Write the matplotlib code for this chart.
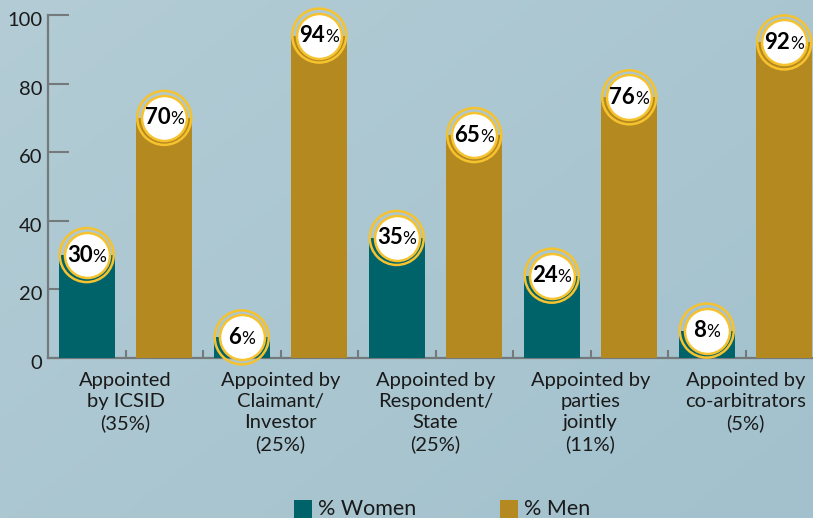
import numpy as np
import matplotlib
matplotlib.use("Agg")
import matplotlib.pyplot as plt
from matplotlib.offsetbox import TextArea, HPacker, AnnotationBbox
from matplotlib.transforms import ScaledTranslation
from matplotlib.patches import Rectangle

categories = ["Appointed\nby ICSID\n(35%)",
              "Appointed by\nClaimant/\nInvestor\n(25%)",
              "Appointed by\nRespondent/\nState\n(25%)",
              "Appointed by\nparties\njointly\n(11%)",
              "Appointed by\nco-arbitrators\n(5%)"]
women = [30, 6, 35, 24, 8]
men = [70, 94, 65, 76, 92]
yticks = [0, 20, 40, 60, 80, 100]
series_names = ["% Women", "% Men"]

TEAL = "#00636A"
GOLD = "#B4891F"
RING = "#F6C22E"
AXC = "#74797C"
FONT = "Lato"

plt.rcParams['font.family'] = [FONT, 'DejaVu Sans']

W, H = 813, 518
fig = plt.figure(figsize=(W/100, H/100), dpi=100)

# background gradient
bg = fig.add_axes([0, 0, 1, 1], zorder=-10)
xx, yy = np.meshgrid(np.linspace(0, 1, 200), np.linspace(0, 1, 200))
t = np.clip(0.55 * xx + 0.45 * yy, 0, 1)
c0 = np.array([0xB3, 0xCC, 0xD5]) / 255
c1 = np.array([0xA2, 0xC1, 0xCD]) / 255
img = c0[None, None, :] * (1 - t[..., None]) + c1[None, None, :] * t[..., None]
bg.imshow(img, aspect='auto', extent=[0, 1, 0, 1], origin='upper')
bg.axis('off')

left = 48 / W
bottom = (H - 358) / H
height = (358 - 15) / H
width = 775 / W
ax = fig.add_axes([left, bottom, width, height])
ax.patch.set_alpha(0)

n = len(categories)
xw = np.arange(n) * 2
xm = xw + 1
bw = 0.72
ax.bar(xw, women, width=bw, color=TEAL, zorder=2)
ax.bar(xm, men, width=bw, color=GOLD, zorder=2)

ax.set_xlim(-0.5, 2 * n - 0.5)
ax.set_ylim(0, 100)

for s in ['top', 'right']:
    ax.spines[s].set_visible(False)
for s in ['left', 'bottom']:
    ax.spines[s].set_color(AXC)
    ax.spines[s].set_linewidth(1.6)
    ax.spines[s].set_zorder(1)

ax.set_yticks(yticks)
ax.tick_params(axis='y', direction='in', length=15, width=1.5, color=AXC,
               labelsize=14.5, pad=4, labelcolor='#1a1a1a')
for lab in ax.get_yticklabels():
    lab.set_transform(lab.get_transform() + ScaledTranslation(0, -4/100, fig.dpi_scale_trans))

ax.set_xticks(np.arange(0.5, 2 * n - 1, 1.0))
ax.set_xticklabels([])
ax.tick_params(axis='x', direction='in', length=6, width=1.5, color=AXC)

for i, cat in enumerate(categories):
    ax.text(2 * i + 0.5, -4.0, cat, ha='center', va='top', fontsize=14.5,
            color='#1a1a1a', linespacing=1.3, transform=ax.transData, clip_on=False)

# value badges
def badge(x, v):
    ax.scatter([x], [v], s=(54 * 0.72) ** 2, facecolors='none', edgecolors=RING,
               linewidths=1.8, zorder=3, clip_on=False)
    ax.scatter([x], [v], s=(45 * 0.72) ** 2, facecolors='white', edgecolors=RING,
               linewidths=1.8, zorder=4, clip_on=False)
    t1 = TextArea(str(v), textprops=dict(fontweight='bold', fontsize=16, color='black', family=FONT))
    t2 = TextArea("%", textprops=dict(fontsize=12.5, color='black', family=FONT))
    box = HPacker(children=[t1, t2], align='baseline', pad=0, sep=0)
    ab = AnnotationBbox(box, (x, v), frameon=False, box_alignment=(0.5, 0.5),
                        xycoords='data', zorder=5, annotation_clip=False)
    ax.add_artist(ab)

for i in range(n):
    badge(xw[i], women[i])
    badge(xm[i], men[i])

# legend
colors = [TEAL, GOLD]
lx = [294, 500]
for name, c, x0 in zip(series_names, colors, lx):
    fig.patches.append(Rectangle((x0 / W, 0), 18 / W, 18 / H, transform=fig.transFigure,
                                 facecolor=c, edgecolor='none'))
    fig.text((x0 + 24) / W, 3 / H, name, fontsize=15.5, color='#1a1a1a', ha='left', va='baseline')

fig.savefig("out.png", dpi=100)
